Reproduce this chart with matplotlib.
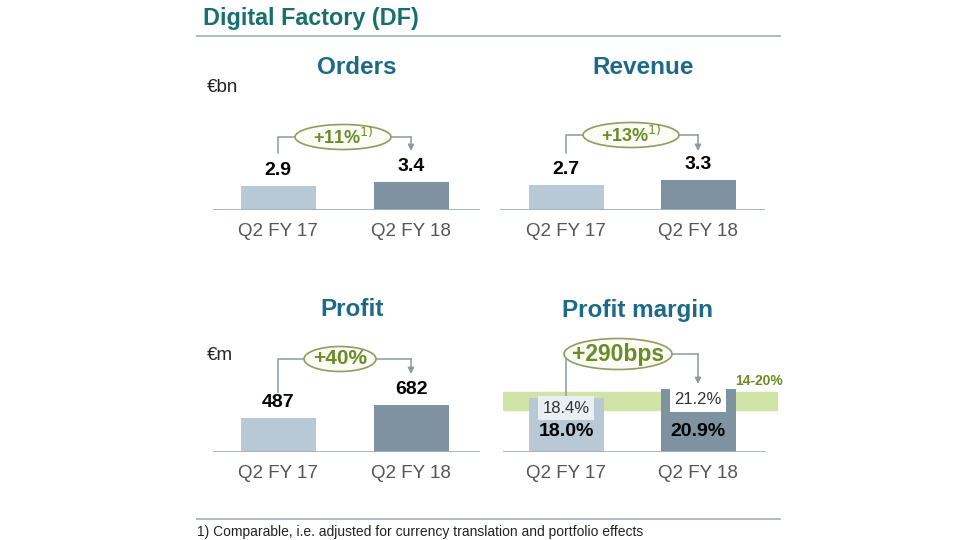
import matplotlib
matplotlib.use("Agg")
import matplotlib.pyplot as plt
from matplotlib.patches import Ellipse

plt.rcParams['font.family'] = ['Liberation Sans', 'DejaVu Sans']

# data
periods = ["Q2 FY 17", "Q2 FY 18"]
orders = [2.9, 3.4]
revenue = [2.7, 3.3]
profit = [487, 682]
margin = [18.0, 20.9]
margin_adj = [18.4, 21.2]
target_range = [14, 20]
growth = ["+11%$^{1)}$", "+13%$^{1)}$", "+40%", "+290bps"]

W, H = 960, 540
fig = plt.figure(figsize=(9.6, 5.4), dpi=100)
fig.patch.set_facecolor("white")

LIGHT = "#b9c8d5"
DARK = "#7e92a2"
TEAL = "#17706c"
BLUE = "#1d6a88"
OLIVE = "#6b8b28"
GREY = "#8c99a4"


def fx(x):
    return x / W


def fy(y):
    return 1 - y / H


def hline(y, x0, x1, color="#aab4bc", lw=1.3):
    fig.add_artist(plt.Line2D([fx(x0), fx(x1)], [fy(y), fy(y)], color=color, lw=lw))


fig.text(fx(203), fy(18), "Digital Factory (DF)", fontsize=16.8, fontweight="bold",
         color=TEAL, va="center", ha="left")
hline(36, 197, 780)
hline(519, 197, 780)
fig.text(fx(197), fy(532), "1) Comparable, i.e. adjusted for currency translation and portfolio effects",
         fontsize=10, color="#222222", va="center", ha="left")
fig.text(fx(207), fy(88), "€bn", fontsize=13.5, color="#222222", va="center")
fig.text(fx(207), fy(355), "€m", fontsize=13.5, color="#222222", va="center")


def panel(x0, x1, base, c0, c1, ylim, values, title, title_x):
    axh = 120
    ax = fig.add_axes([fx(x0), fy(base), fx(x1 - x0), axh / H])
    sp = c1 - c0
    ax.set_xlim(-(c0 - x0) / sp, 1 + (x1 - c1) / sp)
    ax.set_ylim(*ylim)
    ax.bar([0, 1], values, width=75 / sp, color=[LIGHT, DARK], zorder=3)
    ax.set_xticks([0, 1])
    ax.set_xticklabels(periods, fontsize=13.5, color="#555555")
    ax.tick_params(axis="x", length=0, pad=9)
    ax.set_yticks([])
    for s in ["top", "right", "left", "bottom"]:
        ax.spines[s].set_visible(False)
    ax.patch.set_alpha(0)
    fig.text(fx(title_x), fy(base - 142), title, fontsize=17.5, fontweight="bold",
             color=BLUE, ha="center", va="center")
    return ax


def bracket(ax, x_left, y_left0, x_right, y_tip, y_line, ex, ew, eh, label, fs=14):
    inv = ax.transData.inverted()

    def d(px, py):
        return inv.transform((px, (H - py)))

    p1 = d(x_left, y_left0)
    p2 = d(x_left, y_line)
    p3 = d(x_right, y_line)
    p4 = d(x_right, y_tip)
    ax.plot([p1[0], p2[0], p3[0]], [p1[1], p2[1], p3[1]], color=GREY, lw=1.1,
            clip_on=False, zorder=4)
    ax.annotate("", xy=p4, xytext=(p3[0], p3[1]),
                arrowprops=dict(arrowstyle="-|>", color=GREY, lw=1.1, mutation_scale=9,
                                shrinkA=0, shrinkB=0),
                annotation_clip=False)
    c = d(ex, y_line)
    e1 = d(ex + ew / 2, y_line + eh / 2)
    e0 = d(ex - ew / 2, y_line - eh / 2)
    ax.add_patch(Ellipse(c, e1[0] - e0[0], e0[1] - e1[1], facecolor="#fbfcf4",
                         edgecolor="#8f9c62", lw=1.2, clip_on=False, zorder=5))
    ax.text(c[0], c[1], label, fontsize=fs, fontweight="bold", color=OLIVE,
            ha="center", va="center", zorder=6)


def value_labels(ax, vals, fmt):
    for i, v in enumerate(vals):
        ax.annotate(fmt.format(v), (i, v), xytext=(0, 5), textcoords="offset points",
                    ha="center", va="bottom", fontsize=14, fontweight="bold")


# Orders
ax1 = panel(213, 480, 210, 278, 411, (0, 120 / 8.2), orders, "Orders", 357)
ax1.axhline(0, color="#a5b0b8", lw=1.3, zorder=4)
value_labels(ax1, orders, "{:.1f}")

# Revenue
ax2 = panel(500, 765, 210, 566, 698, (0, 120 / 9.2), revenue, "Revenue", 643)
ax2.axhline(0, color="#a5b0b8", lw=1.3, zorder=4)
value_labels(ax2, revenue, "{:.1f}")

# Profit
ax3 = panel(213, 480, 452, 278, 411, (0, 120 / 0.069), profit, "Profit", 352)
ax3.axhline(0, color="#a5b0b8", lw=1.3, zorder=4)
value_labels(ax3, profit, "{}")

# Profit margin
ax4 = panel(503, 778, 452, 566, 698, (0, 40), margin, "Profit margin", 637)
ax4.axhspan(target_range[0], target_range[1], color="#d2e3a8", zorder=1)
ax4.axhline(0, xmin=0, xmax=(765 - 503) / 275, color="#a5b0b8", lw=1.3, zorder=4)
for i, (v, a) in enumerate(zip(margin, margin_adj)):
    ax4.annotate(f"{a:.1f}%", (i, v), xytext=(0, -2), textcoords="offset points",
                 ha="center", va="top", fontsize=12, color="#333333", zorder=6,
                 bbox=dict(boxstyle="square,pad=0.28", fc="#eaeff4" if i == 0 else "white",
                           ec="none"))
    ax4.annotate(f"{v:.1f}%", (i, 0), xytext=(0, 9), textcoords="offset points",
                 ha="center", va="bottom", fontsize=14, fontweight="bold", zorder=6)
ax4.text(1.28, target_range[1] + 3.8, f"{target_range[0]}-{target_range[1]}%",
         fontsize=10, fontweight="bold", color=OLIVE, ha="left", va="center")

fig.canvas.draw()
bracket(ax1, 278, 153, 411, 151, 137, 343, 96, 25, growth[0], fs=13)
bracket(ax2, 566, 153, 698, 151, 135, 631, 96, 25, growth[1], fs=13)
bracket(ax3, 278, 392, 411, 374, 359, 340, 72, 25, growth[2], fs=15)
bracket(ax4, 566, 397, 698, 384, 354, 618, 108, 31, growth[3], fs=16.5)

fig.savefig("out.png", dpi=100, facecolor="white")
